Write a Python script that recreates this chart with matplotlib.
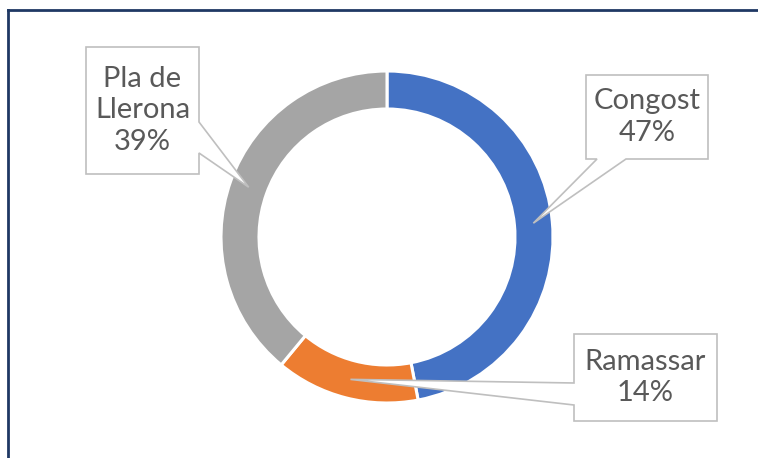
import matplotlib
matplotlib.use("Agg")
import matplotlib.pyplot as plt
from matplotlib.patches import Polygon
from matplotlib.lines import Line2D
import numpy as np

labels = ["Congost", "Ramassar", "Pla de\nLlerona"]
shares = [47, 14, 39]
colors = ["#4472C4", "#ED7D31", "#A5A5A5"]

W, H = 758, 458
fig = plt.figure(figsize=(W / 100, H / 100), dpi=100)
ax = fig.add_axes([0, 0, 1, 1])

# donut, in pixel-like data coordinates (y up)
cx, cy = 387, H - 237
R, ring = 166, 38
wedges, _ = ax.pie(shares, colors=colors, startangle=90, counterclock=False,
                   radius=R, center=(cx, cy),
                   wedgeprops=dict(width=ring, edgecolor="white", linewidth=2.2))
ax.set_xlim(0, W)
ax.set_ylim(0, H)
ax.set_aspect("equal")
ax.axis("off")

# callout boxes: (left, top, right, bottom) in px from top-left, pointer side, base range
boxes = [
    ((586, 75, 708, 159), "bottom", (597, 626)),
    ((574, 334, 717, 421), "left", (383, 405)),
    ((86, 47, 199, 174), "right", (122, 153)),
]

for w, lab, pct, (box, side, base) in zip(wedges, labels, shares, boxes):
    mid = np.deg2rad((w.theta1 + w.theta2) / 2)
    rm = R - ring / 2
    tip = (cx + rm * np.cos(mid), cy + rm * np.sin(mid))
    l, t, r, b = box
    t, b = H - t, H - b
    if side == "bottom":
        pts = [(l, t), (r, t), (r, b), (base[1], b), tip, (base[0], b), (l, b)]
    elif side == "left":
        y0, y1 = H - base[0], H - base[1]
        pts = [(l, t), (r, t), (r, b), (l, b), (l, y1), tip, (l, y0)]
    else:
        y0, y1 = H - base[0], H - base[1]
        pts = [(l, t), (r, t), (r, y0), tip, (r, y1), (r, b), (l, b)]
    ax.add_patch(Polygon(pts, closed=True, facecolor="white", edgecolor="#BFBFBF",
                         linewidth=1.2, zorder=5))
    ax.text((l + r) / 2, (t + b) / 2, f"{lab}\n{pct}%", ha="center", va="center",
            fontsize=21, color="#595959", family="Lato", linespacing=1.25, zorder=6)

# chart border (top and left visible)
fig.add_artist(Line2D([8 / W, 1], [1 - 10 / H, 1 - 10 / H], color="#1F3864", lw=2))
fig.add_artist(Line2D([8 / W, 8 / W], [0, 1 - 10 / H], color="#1F3864", lw=2))

fig.savefig("out.png", dpi=100)
